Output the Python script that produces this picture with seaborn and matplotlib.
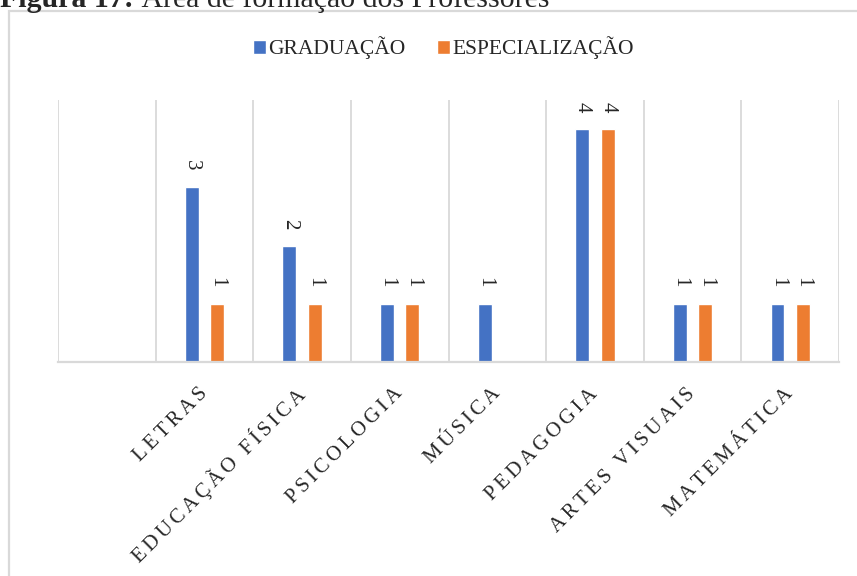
import numpy as np
import pandas as pd
import matplotlib
matplotlib.use("Agg")
import matplotlib.pyplot as plt
from matplotlib.patches import Rectangle
import seaborn as sns

# ---- data ----
categories = ["", "LETRAS", "EDUCAÇÃO FÍSICA", "PSICOLOGIA", "MÚSICA",
              "PEDAGOGIA", "ARTES VISUAIS", "MATEMÁTICA"]
graduacao = [np.nan, 3, 2, 1, 1, 4, 1, 1]
especializacao = [np.nan, 1, 1, 1, np.nan, 4, 1, 1]
series_names = ["GRADUAÇÃO", "ESPECIALIZAÇÃO"]
title_bold = "Figura 17:"
title_rest = " Área de formação dos Professores"

colors = ["#4472C4", "#ED7D31"]

sns.set_style("white")
plt.rcParams["font.family"] = ["Liberation Serif", "DejaVu Serif"]

df = pd.DataFrame({
    "cat": categories * 2,
    "serie": [series_names[0]] * len(categories) + [series_names[1]] * len(categories),
    "val": graduacao + especializacao,
}).dropna()

fig = plt.figure(figsize=(8.57, 5.76), dpi=100)
ax = fig.add_axes([58 / 857, 1 - 362 / 576, (839 - 58) / 857, (362 - 100) / 576])

sns.barplot(data=df, x="cat", y="val", hue="serie", order=categories,
            hue_order=series_names, palette=colors, width=0.52, gap=0.45,
            errorbar=None, ax=ax, saturation=1)

for cont in ax.containers:
    labels = [f"{v:g}" if np.isfinite(v) else "" for v in cont.datavalues]
    ax.bar_label(cont, labels=labels, rotation=270, padding=12, fontsize=15)

ax.set_ylim(0, 4.5)
ax.set_xlim(-0.5, len(categories) - 0.5)
ax.set_yticks([])
ax.set_xlabel("")
ax.set_ylabel("")
for s in ["top", "left", "right"]:
    ax.spines[s].set_visible(False)
ax.spines["bottom"].set_color("#D9D9D9")
ax.spines["bottom"].set_linewidth(1.6)

ax.set_xticks(np.arange(-0.5, len(categories), 1), minor=True)
ax.grid(False)
ax.grid(which="minor", axis="x", color="#D9D9D9", linewidth=1.3)
ax.tick_params(axis="x", which="both", length=0, pad=21)

sp = "\u2006"
spaced = [sp.join(c) for c in categories]
ax.set_xticks(range(len(categories)))
ax.set_xticklabels(spaced, fontsize=15)
plt.setp(ax.get_xticklabels(), rotation=45, ha="right", va="center",
         rotation_mode="anchor")

handles, labels = ax.get_legend_handles_labels()
if ax.get_legend() is not None:
    ax.get_legend().remove()
fig.legend(handles, labels, loc="center", bbox_to_anchor=(0.5175, 1 - 48 / 576),
           ncol=2, frameon=False, handlelength=0.6, handleheight=0.6,
           handletextpad=0.12, columnspacing=1.45, fontsize=15.5)

# outer chart border (partially cropped)
fig.patches.append(Rectangle((9 / 857, -0.1), 1.2, 1.1 - 11 / 576,
                             transform=fig.transFigure, fill=False,
                             edgecolor="#D9D9D9", linewidth=1.6))

# title (cropped at top, as in the source)
t1 = fig.text(0 / 857, 1 - 7 / 576, title_bold, fontsize=21.5, fontweight="bold",
              va="baseline", ha="left")
fig.canvas.draw()
bb = t1.get_window_extent()
x2 = bb.x1 / fig.bbox.width
fig.text(x2, 1 - 7 / 576, title_rest, fontsize=21.5, va="baseline", ha="left")

fig.savefig("out.png", dpi=100)
